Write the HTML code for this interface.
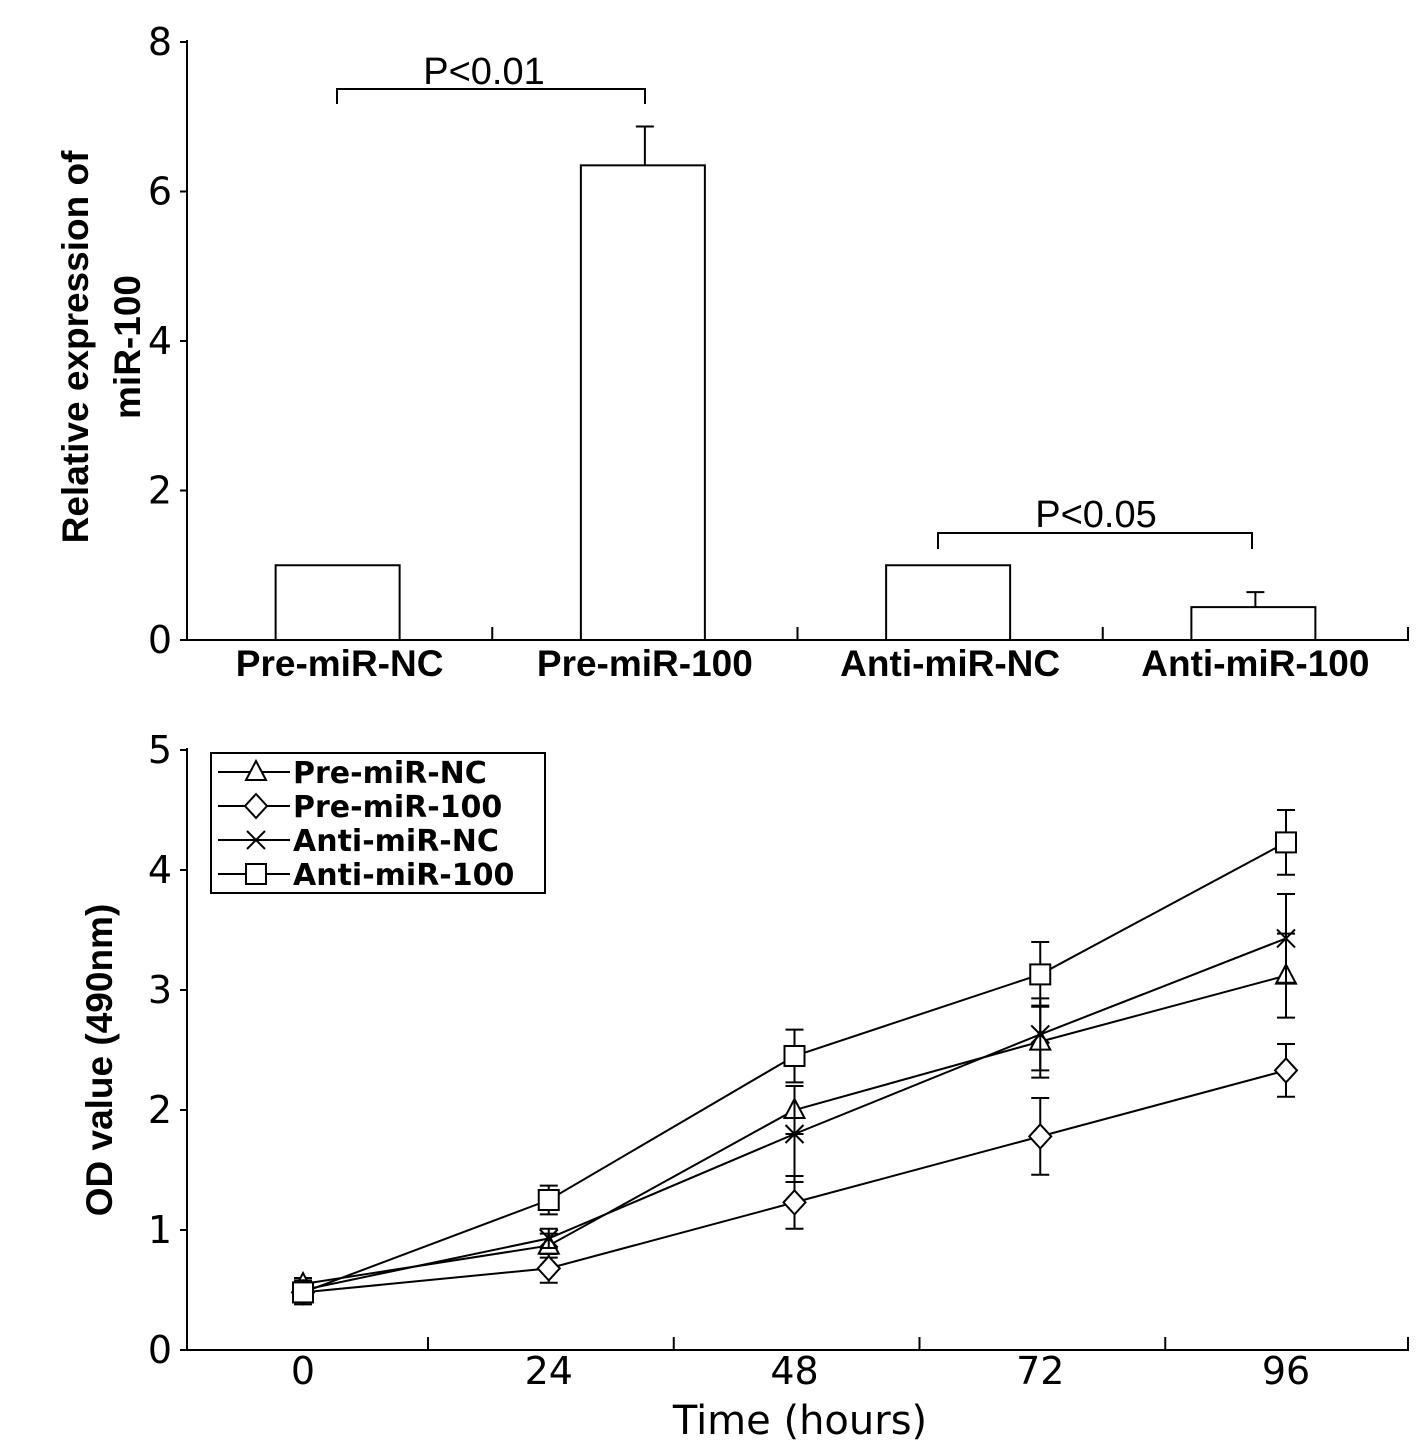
<!DOCTYPE html>
<html><head><meta charset="utf-8"><style>
html,body{margin:0;padding:0;background:#fff;}
svg{display:block;}
text{font-family:"DejaVu Sans","Liberation Sans",sans-serif;fill:#000;}
text.lib{font-family:"Liberation Sans",sans-serif;}
</style></head><body>
<svg id="c" width="1417" height="1453" viewBox="0 0 1417 1453" xmlns="http://www.w3.org/2000/svg"></svg>
<script>
// Top bar chart data
const barCats = ["Pre-miR-NC","Pre-miR-100","Anti-miR-NC","Anti-miR-100"];
const barVals = [1.0, 6.35, 1.0, 0.44];
const barErr = [0, 0.52, 0, 0.2];
const barTicks = [0,2,4,6,8];
// Bottom line chart data
const timeCats = ["0","24","48","72","96"];
const seriesNames = ["Pre-miR-NC","Pre-miR-100","Anti-miR-NC","Anti-miR-100"];
const sPreNC = [0.55,0.87,2.0,2.57,3.12];
const sPre100 = [0.48,0.68,1.23,1.78,2.33];
const sAntiNC = [0.5,0.93,1.8,2.63,3.43];
const sAnti100 = [0.48,1.25,2.45,3.13,4.23];
const ePreNC = [0.05,0.1,0.2,0.3,0.35];
const ePre100 = [0.05,0.12,0.22,0.32,0.22];
const eAntiNC = [0.05,0.08,0.4,0.3,0.37];
const eAnti100 = [0.1,0.12,0.22,0.27,0.27];
const lineTicks = [0,1,2,3,4,5];

const svg=document.getElementById('c');
const NS="http://www.w3.org/2000/svg";
function mk(tag,attrs,parent){const e=document.createElementNS(NS,tag);for(const k in attrs)e.setAttribute(k,attrs[k]);(parent||svg).appendChild(e);return e;}
const ST={stroke:"#000","stroke-width":2,fill:"none"};

// ---- Top chart
const ty=v=>640-v*74.75;
const tx=i=>187+305.25*(i+0.5);
const g1=mk('g',{});


let l=mk('line',{x1:187,y1:40,x2:187,y2:641,...ST},g1);

l=mk('line',{x1:187,y1:640,x2:1409,y2:640,...ST},g1);

barTicks.forEach(v=>{
  mk('line',{x1:180,y1:ty(v),x2:187,y2:ty(v),...ST},g1);
  const t=mk('text',{x:172,y:ty(v)+13,"text-anchor":"end","font-size":38},g1);t.textContent=v;
  
});
for(let i=1;i<=4;i++)mk('line',{x1:187+305.25*i,y1:627,x2:187+305.25*i,y2:640,...ST},g1);
barCats.forEach((c,i)=>{
  const w=124, x=tx(i)-w/2-2;
  const r=mk('rect',{x:x,y:ty(barVals[i]),width:w,height:640-ty(barVals[i]),fill:"#fff",stroke:"#000","stroke-width":2},g1);
  
  if(barErr[i]>0){
    const cx=x+w/2+2, top=ty(barVals[i]+barErr[i]);
    mk('line',{x1:cx,y1:ty(barVals[i]),x2:cx,y2:top,...ST},g1);
    mk('line',{x1:cx-9,y1:top,x2:cx+9,y2:top,...ST},g1);
  }
  const t=mk('text',{x:tx(i),y:676,"text-anchor":"middle","font-size":37,"font-weight":"bold","class":"lib"},g1);t.textContent=c;
  
});
// significance brackets
mk('path',{d:"M337 104 V89 H645 V104",...ST},g1);
let t=mk('text',{x:484,y:84,"text-anchor":"middle","font-size":38,"class":"lib"},g1);t.textContent="P<0.01";

mk('path',{d:"M938 549 V533 H1252 V549",...ST},g1);
t=mk('text',{x:1096,y:527,"text-anchor":"middle","font-size":38,"class":"lib"},g1);t.textContent="P<0.05";

t=mk('text',{transform:"translate(88,347) rotate(-90)","text-anchor":"middle","font-size":37,"font-weight":"bold","class":"lib"},g1);t.textContent="Relative expression of";

t=mk('text',{transform:"translate(140,347) rotate(-90)","text-anchor":"middle","font-size":37,"font-weight":"bold","class":"lib"},g1);t.textContent="miR-100";

// ---- Bottom chart
const ly=v=>1350-v*120;
const lx=i=>303+245.75*i;
const g2=mk('g',{});


l=mk('line',{x1:187,y1:748,x2:187,y2:1351,...ST},g2);

l=mk('line',{x1:187,y1:1350,x2:1409,y2:1350,...ST},g2);

lineTicks.forEach(v=>{
  mk('line',{x1:180,y1:ly(v),x2:187,y2:ly(v),...ST},g2);
  const tt=mk('text',{x:172,y:ly(v)+13,"text-anchor":"end","font-size":38},g2);tt.textContent=v;
  
});
for(let i=0;i<4;i++)mk('line',{x1:lx(i)+125,y1:1337,x2:lx(i)+125,y2:1350,...ST},g2);
mk('line',{x1:1408,y1:1337,x2:1408,y2:1350,...ST},g2);
timeCats.forEach((c,i)=>{
  const tt=mk('text',{x:lx(i),y:1384,"text-anchor":"middle","font-size":38},g2);tt.textContent=c;
  
});
t=mk('text',{x:800,y:1434,"text-anchor":"middle","font-size":40},g2);t.textContent="Time (hours)";

t=mk('text',{transform:"translate(112,1060) rotate(-90)","text-anchor":"middle","font-size":37,"font-weight":"bold","class":"lib"},g2);t.textContent="OD value (490nm)";


function marker(type,x,y,p){
  const a={fill:"#fff",stroke:"#000","stroke-width":2};
  if(type==="tri")return mk('polygon',{points:`${x},${y-11} ${x-10},${y+8} ${x+10},${y+8}`,...a},p);
  if(type==="dia")return mk('polygon',{points:`${x},${y-12} ${x+11},${y} ${x},${y+12} ${x-11},${y}`,...a},p);
  if(type==="sq")return mk('rect',{x:x-10,y:y-10,width:20,height:20,...a},p);
  const gg=mk('g',{},p);
  mk('line',{x1:x-9,y1:y-9,x2:x+9,y2:y+9,...ST},gg);mk('line',{x1:x-9,y1:y+9,x2:x+9,y2:y-9,...ST},gg);
  return gg;
}
const series=[[sPreNC,ePreNC,"tri"],[sPre100,ePre100,"dia"],[sAntiNC,eAntiNC,"x"],[sAnti100,eAnti100,"sq"]];
series.forEach(([vals,errs,m],si)=>{
  const sg=mk('g',{},g2);
  
  
  mk('polyline',{points:vals.map((v,i)=>lx(i)+","+ly(v)).join(" "),...ST},sg);
  vals.forEach((v,i)=>{
    const x=lx(i),hi=ly(v+errs[i]),lo=ly(v-errs[i]);
    mk('line',{x1:x,y1:hi,x2:x,y2:lo,...ST},sg);
    mk('line',{x1:x-9,y1:hi,x2:x+9,y2:hi,...ST},sg);
    mk('line',{x1:x-9,y1:lo,x2:x+9,y2:lo,...ST},sg);
  });
  vals.forEach((v,i)=>{
    const mm=marker(m,lx(i),ly(v),sg);
    
  });
});
// legend
const lg=mk('g',{},g2);


mk('rect',{x:211,y:753,width:334,height:140,fill:"#fff",stroke:"#000","stroke-width":2},lg);
["tri","dia","x","sq"].forEach((m,i)=>{
  const y=772+i*34;
  const eg=mk('g',{},lg);
  
  
  mk('line',{x1:218,y1:y,x2:290,y2:y,...ST},eg);
  marker(m,256,y,eg);
  const tt=mk('text',{x:293,y:y+11,"font-size":30,"font-weight":"bold"},eg);tt.textContent=seriesNames[i];
});
</script>
</body></html>
